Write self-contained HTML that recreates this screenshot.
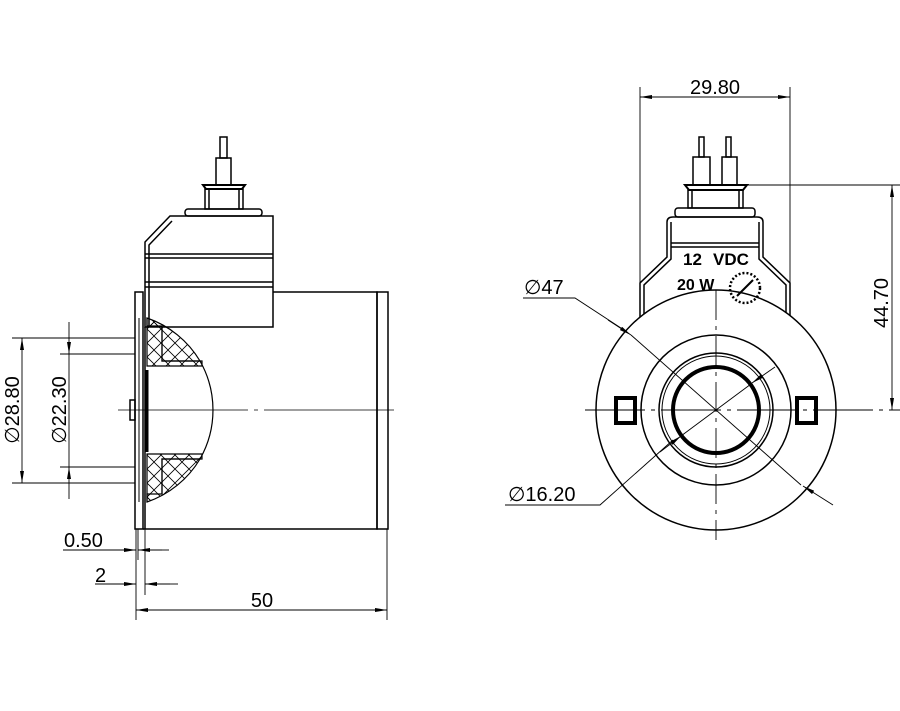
<!DOCTYPE html>
<html><head><meta charset="utf-8"><style>
html,body{margin:0;padding:0;background:#fff}
svg{display:block}
text{font-family:"Liberation Sans","DejaVu Sans",sans-serif;fill:#000}
</style></head><body>
<svg width="900" height="711" viewBox="0 0 900 711" xmlns="http://www.w3.org/2000/svg">
<defs>
<marker id="a" viewBox="0 0 12 4" refX="12" refY="2" markerWidth="12" markerHeight="4" orient="auto-start-reverse" markerUnits="userSpaceOnUse"><path d="M0,0L12,2L0,4z" fill="#000"/></marker>
<pattern id="h" width="14" height="14" patternUnits="userSpaceOnUse"><path d="M0,0L14,14M14,0L0,14" stroke="#000" stroke-width="0.8"/></pattern>
</defs>
<g fill="none" stroke="#000" stroke-width="1.5">
<!-- LEFT VIEW -->
<rect x="220" y="137" width="7" height="21"/>
<rect x="216" y="158" width="15" height="27"/>
<path d="M203,185 H245 L242,189 H206 Z" stroke-width="2"/>
<rect x="205" y="189" width="38" height="20"/>
<line x1="209" y1="189" x2="209" y2="209"/><line x1="239" y1="189" x2="239" y2="209"/>
<rect x="185" y="209" width="77" height="7" rx="3"/>
<path d="M170,216 H273 V327 H145 V242 Z"/>
<path d="M149,327 V245 L172,221"/>
<line x1="145" y1="254" x2="273" y2="254"/><line x1="145" y1="258" x2="273" y2="258"/>
<line x1="145" y1="282" x2="273" y2="282"/><line x1="145" y1="287" x2="273" y2="287"/>
<rect x="135" y="292" width="8" height="237"/>
<path d="M273,292 H377 V529 H143"/>
<rect x="377" y="292" width="11" height="237"/>
<line x1="139" y1="318" x2="139" y2="502" stroke-width="1"/>
<line x1="145" y1="327" x2="145" y2="529"/>
<line x1="147" y1="370" x2="147" y2="452" stroke-width="3"/>
<rect x="130" y="400" width="5" height="20"/>
<path d="M147,318 A99,99 0 0 1 200,361 H162 V326 H147 Z" fill="url(#h)" stroke-width="1.2"/>
<path d="M147,318 V366 H202 V361 H162 V326" fill="url(#h)" stroke-width="1.2"/>
<path d="M147,502 A99,99 0 0 0 200,459 H162 V494 H147 Z" fill="url(#h)" stroke-width="1.2"/>
<path d="M147,502 V454 H202 V459 H162 V494" fill="url(#h)" stroke-width="1.2"/>
<path d="M200,361 A99,99 0 0 1 200,459" stroke-width="1.2"/>
<line x1="118" y1="410" x2="400" y2="410" stroke-width="0.8" stroke-dasharray="130,6,4,6"/>
</g>
<g fill="none" stroke="#000" stroke-width="0.9">
<line x1="12" y1="338" x2="135" y2="338"/><line x1="12" y1="483" x2="135" y2="483"/>
<line x1="22" y1="338" x2="22" y2="483" marker-start="url(#a)" marker-end="url(#a)"/>
<line x1="60" y1="354" x2="135" y2="354"/><line x1="60" y1="467" x2="135" y2="467"/>
<line x1="69" y1="322" x2="69" y2="354" marker-end="url(#a)"/>
<line x1="69" y1="499" x2="69" y2="467" marker-end="url(#a)"/>
<line x1="69" y1="354" x2="69" y2="467"/>
<line x1="136" y1="529" x2="136" y2="620"/>
<line x1="138" y1="529" x2="138" y2="560"/>
<line x1="145" y1="529" x2="145" y2="595"/>
<line x1="387" y1="529" x2="387" y2="620"/>
<line x1="63" y1="550" x2="112" y2="550"/>
<line x1="112" y1="550" x2="136" y2="550" marker-end="url(#a)"/>
<line x1="162" y1="550" x2="138" y2="550" marker-end="url(#a)"/>
<line x1="162" y1="550" x2="169" y2="550"/>
<line x1="95" y1="584" x2="112" y2="584"/>
<line x1="112" y1="584" x2="136" y2="584" marker-end="url(#a)"/>
<line x1="170" y1="584" x2="145" y2="584" marker-end="url(#a)"/>
<line x1="170" y1="584" x2="178" y2="584"/>
<line x1="136" y1="610" x2="387" y2="610" marker-start="url(#a)" marker-end="url(#a)"/>
</g>
<text x="64" y="547" font-size="20">0.50</text>
<text x="95" y="582" font-size="20">2</text>
<text x="262" y="607" font-size="20" text-anchor="middle">50</text>
<text transform="translate(19,410) rotate(-90)" font-size="20" text-anchor="middle">∅28.80</text>
<text transform="translate(66,410) rotate(-90)" font-size="20" text-anchor="middle">∅22.30</text>

<!-- RIGHT VIEW -->
<g fill="none" stroke="#000" stroke-width="1.5">
<rect x="699" y="137" width="5" height="20"/><rect x="726" y="137" width="5" height="20"/>
<rect x="693" y="157" width="17" height="28"/><rect x="722" y="157" width="15" height="28"/>
<path d="M685,185 H747 L743,190 H689 Z" stroke-width="2"/>
<rect x="688" y="190" width="55" height="18"/>
<line x1="692" y1="190" x2="692" y2="208"/><line x1="739" y1="190" x2="739" y2="208"/>
<rect x="675" y="208" width="80" height="9" rx="3"/>
<path d="M640,320 V283 L667,257 V222 Q667,217 673,217 H757 Q763,217 763,222 V257 L790,283 V320"/>
<path d="M644,318 V285 L671,259 V222 M759,222 V259 L786,285 V318"/>
<line x1="671" y1="243" x2="759" y2="243"/><line x1="671" y1="247" x2="759" y2="247"/>
<circle cx="716" cy="410" r="120" fill="#fff"/>
<circle cx="716" cy="410" r="75"/>
<circle cx="716" cy="410" r="57"/>
<circle cx="716" cy="410" r="54" stroke-width="1"/>
<circle cx="716" cy="410" r="43" stroke-width="4"/>
<rect x="616" y="398" width="19" height="25" stroke-width="4"/>
<rect x="797" y="398" width="19" height="25" stroke-width="4"/>
<circle cx="745" cy="288" r="15" stroke-width="2.5" stroke-dasharray="2,2"/>
<line x1="737" y1="296" x2="753" y2="280" stroke-width="2"/>
</g>
<text x="683" y="265" font-size="17" font-weight="bold">12</text>
<text x="713" y="265" font-size="17" font-weight="bold">VDC</text>
<text x="677" y="290" font-size="16" font-weight="bold">20 W</text>
<g fill="none" stroke="#000" stroke-width="0.9">
<line x1="585" y1="410" x2="900" y2="410" stroke-dasharray="60,6,4,6"/>
<line x1="716" y1="290" x2="716" y2="540" stroke-dasharray="30,6,4,6"/>
<line x1="640" y1="87" x2="640" y2="283"/><line x1="790" y1="87" x2="790" y2="283"/>
<line x1="640" y1="97" x2="790" y2="97" marker-start="url(#a)" marker-end="url(#a)"/>
<line x1="747" y1="185" x2="900" y2="185"/>
<line x1="892" y1="185" x2="892" y2="410" marker-start="url(#a)" marker-end="url(#a)"/>
<path d="M523,298 H575 L624,330" />
<line x1="608" y1="320" x2="631" y2="335" marker-end="url(#a)"/>
<line x1="631" y1="335" x2="801" y2="485"/>
<line x1="833" y1="505" x2="803" y2="486" marker-end="url(#a)"/>
<path d="M505,505 H600 L673,440"/>
<line x1="660" y1="452" x2="681" y2="436" marker-end="url(#a)"/>
<line x1="681" y1="436" x2="751" y2="384"/>
<line x1="775" y1="367" x2="752" y2="383" marker-end="url(#a)"/>
</g>
<text x="715" y="94" font-size="20" text-anchor="middle">29.80</text>
<text transform="translate(888,303) rotate(-90)" font-size="20" text-anchor="middle">44.70</text>
<text x="524" y="294" font-size="20">∅47</text>
<text x="508" y="501" font-size="20">∅16.20</text>
</svg>
</body></html>
